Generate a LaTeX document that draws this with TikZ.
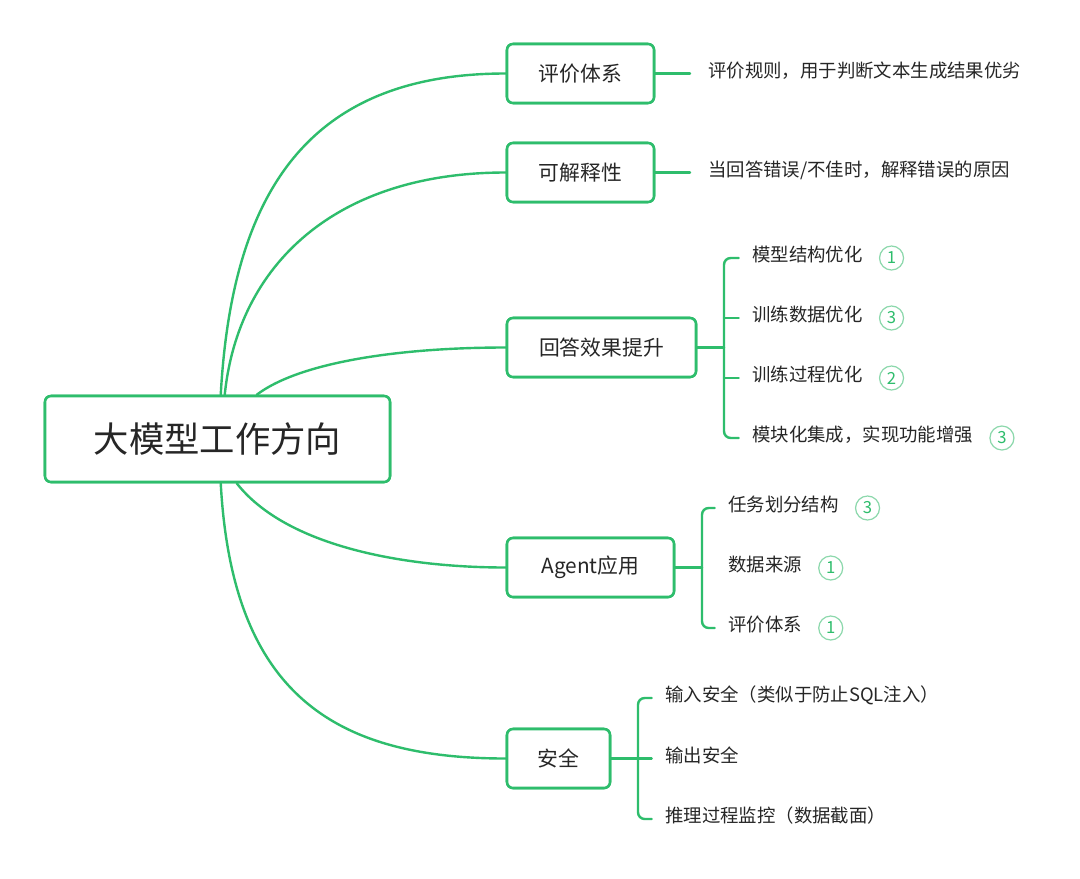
\documentclass[tikz,border=0pt]{standalone}
\usepackage{fontspec}
\setmainfont{Noto Sans CJK SC}
\usetikzlibrary{calc,positioning}
\definecolor{mgreen}{RGB}{46,189,108}
\definecolor{lgreen}{RGB}{140,216,172}
\definecolor{txt}{RGB}{38,38,38}
\tikzset{
  conn/.style={draw=mgreen, line width=1.8pt, line cap=round},
  boxbase/.style={draw=mgreen, line width=1.9pt, rounded corners=4.5pt, fill=white, text=txt, align=center, inner sep=0pt},
  rootbox/.style={boxbase, font=\fontsize{26.5pt}{30pt}\selectfont, minimum width=258.75pt, minimum height=64.5pt},
  branch/.style={boxbase, font=\fontsize{15.6pt}{18pt}\selectfont, minimum height=44.25pt},
  leaf/.style={anchor=west, inner sep=0pt, text=txt, font=\fontsize{13.8pt}{16pt}\selectfont, text height=0.78em, text depth=0.22em},
  numc/.style={circle, draw=lgreen, line width=0.9pt, text=mgreen, minimum size=18pt, inner sep=0pt, font=\fontsize{12.5pt}{13pt}\selectfont},
}
\begin{document}
\begin{tikzpicture}[x=0.75pt,y=-0.75pt]
\useasboundingbox (0,0) rectangle (1080,878);
\fill[white] (0,0) rectangle (1080,878);

% root
\node[rootbox] (root) at (217.5,439) {大模型工作方向};

% branches
\node[branch, minimum width=110.25pt] (b1) at (580.5,73.5) {评价体系};
\node[branch, minimum width=110.25pt] (b2) at (580.5,172.5) {可解释性};
\node[branch, minimum width=141.75pt] (b3) at (601.5,347.5) {回答效果提升};
\node[branch, minimum width=125.25pt] (b4) at (590.5,567.5) {Agent应用};
\node[branch, minimum width=77.25pt] (b5) at (558.5,758.5) {安全};

% root anchor points
\coordinate (r1) at ($(root.north west)+(177,0)$);
\coordinate (r2) at ($(root.north west)+(181,0)$);
\coordinate (r3) at ($(root.north west)+(213,0)$);
\coordinate (r4) at ($(root.south west)+(193,0)$);
\coordinate (r5) at ($(root.south west)+(177,0)$);

% curves
\draw[conn] (r1) .. controls (232,190) and (310,73.5) .. (b1.west);
\draw[conn] (r2) .. controls (238,265) and (335,172.5) .. (b2.west);
\draw[conn] (r3) .. controls (300,362) and (400,347.5) .. (b3.west);
\draw[conn] (r4) .. controls (285,545) and (400,567.5) .. (b4.west);
\draw[conn] (r5) .. controls (232,690) and (330,758.5) .. (b5.west);

% redraw boxes on top of the curve ends
\node[rootbox] at (root) {大模型工作方向};
\node[branch, minimum width=110.25pt] at (b1) {评价体系};
\node[branch, minimum width=110.25pt] at (b2) {可解释性};
\node[branch, minimum width=141.75pt] at (b3) {回答效果提升};
\node[branch, minimum width=125.25pt] at (b4) {Agent应用};
\node[branch, minimum width=77.25pt] at (b5) {安全};

% leaves of b1, b2
\node[leaf] (l1) at (708,73.5) {评价规则，用于判断文本生成结果优劣};
\node[leaf] (l2) at (708,172.5) {当回答错误/不佳时，解释错误的原因};
\draw[conn, shorten >=13.5pt] (b1.east) -- (l1.west);
\draw[conn, shorten >=13.5pt] (b2.east) -- (l2.west);

% b3
\node[leaf] (l31) at (752,258) {模型结构优化};
\node[leaf] (l32) at (752,318) {训练数据优化};
\node[leaf] (l33) at (752,378) {训练过程优化};
\node[leaf] (l34) at (752,438) {模块化集成，实现功能增强};
\node[numc, right=12pt of l31] (n31) {1};
\node[numc, right=12pt of l32] (n32) {3};
\node[numc, right=12pt of l33] (n33) {2};
\node[numc, right=12pt of l34] (n34) {3};
\coordinate (j3) at (724,347.5);
\draw[conn] (b3.east) -- (j3);
\draw[conn, rounded corners=5pt, shorten <=10pt, shorten >=10pt] (l31.west) -| (j3) |- (l34.west);
\draw[conn, shorten >=10pt] (j3 |- l32.west) -- (l32.west);
\draw[conn, shorten >=10pt] (j3 |- l33.west) -- (l33.west);

% b4
\node[leaf] (l41) at (728,508) {任务划分结构};
\node[leaf] (l42) at (728,568) {数据来源};
\node[leaf] (l43) at (728,628) {评价体系};
\node[numc, right=12pt of l41] (n41) {3};
\node[numc, right=12pt of l42] (n42) {1};
\node[numc, right=12pt of l43] (n43) {1};
\coordinate (j4) at (702,567.5);
\draw[conn] (b4.east) -- (j4);
\draw[conn, rounded corners=5pt, shorten <=10pt, shorten >=10pt] (l41.west) -| (j4) |- (l43.west);

% b5
\node[leaf] (l51) at (665,698) {输入安全（类似于防止SQL注入）};
\node[leaf] (l52) at (665,758.5) {输出安全};
\node[leaf] (l53) at (665,819) {推理过程监控（数据截面）};
\coordinate (j5) at (638,758.5);
\draw[conn, shorten >=10pt] (b5.east) -- (l52.west);
\draw[conn, rounded corners=5pt, shorten <=10pt, shorten >=10pt] (l51.west) -| (j5) |- (l53.west);
\end{tikzpicture}
\end{document}
